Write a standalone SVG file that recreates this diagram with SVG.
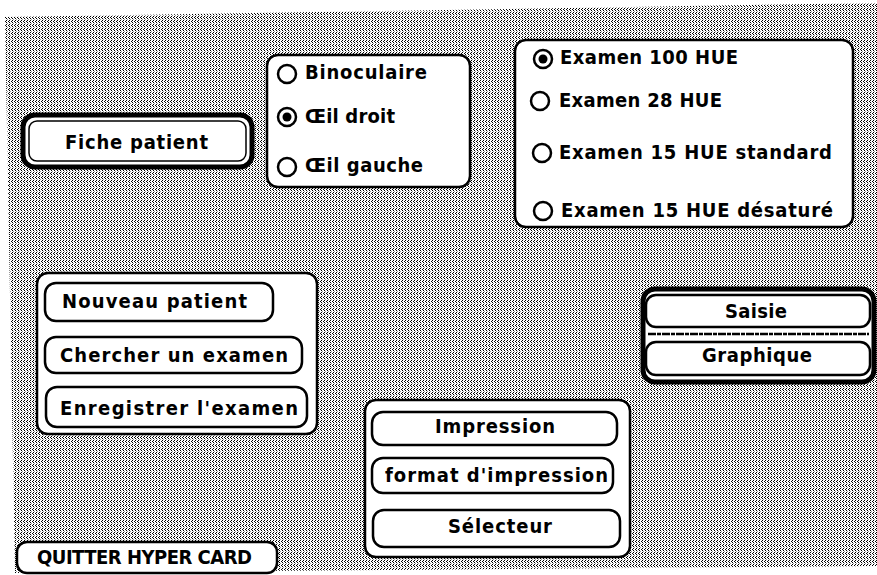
<svg xmlns="http://www.w3.org/2000/svg" width="877" height="575" viewBox="0 0 877 575">
<defs>
<pattern id="dither" width="3" height="4" patternUnits="userSpaceOnUse">
<rect width="3" height="4" fill="#ffffff"/>
<rect x="0" y="0" width="1" height="1" fill="#000"/>
<rect x="2" y="1" width="1" height="1" fill="#000"/>
<rect x="0" y="2" width="1" height="1" fill="#000"/>
<rect x="1" y="3" width="1" height="1" fill="#000" fill-opacity="0.4"/>
</pattern>
</defs>
<style>
.bg{fill:url(#dither);}
.box{fill:#fff;stroke:#000;stroke-width:2.5;}
.btn{fill:#fff;stroke:#000;stroke-width:2.5;}
.thick{fill:#fff;stroke:#000;stroke-width:5;}
.thin{fill:none;stroke:#000;stroke-width:1.5;}
.radio{fill:#fff;stroke:#000;stroke-width:2.5;}
.dot{fill:#000;}
text{font-family:"DejaVu Sans Condensed","DejaVu Sans","Liberation Sans",sans-serif;font-weight:bold;font-size:20px;fill:#000;}
</style>
<rect width="877" height="575" fill="#fff"/>
<polygon class="bg" points="5,17 877,3 877,566 15,573"/>

<g id="fiche-patient">
<rect class="thick" x="23" y="115" width="229" height="52" rx="12"/>
<rect class="thin" x="29" y="121" width="217" height="40" rx="8"/>
<text x="65" y="149" font-size="21" textLength="143">Fiche patient</text>
</g>

<g id="oeil">
<rect class="box" x="267" y="55" width="203" height="132" rx="11"/>
<circle class="radio" cx="287" cy="74" r="9"/>
<text x="305" y="79" textLength="122">Binoculaire</text>
<circle class="radio" cx="287" cy="117" r="9"/>
<circle class="dot" cx="287" cy="117" r="4.5"/>
<text x="305" y="123" textLength="90">Œil droit</text>
<circle class="radio" cx="287" cy="167" r="9"/>
<text x="305" y="172" textLength="118">Œil gauche</text>
</g>

<g id="examen">
<rect class="box" x="515" y="40" width="338" height="187" rx="11"/>
<circle class="radio" cx="543" cy="59" r="9"/>
<circle class="dot" cx="543" cy="59" r="4.5"/>
<text x="560" y="64" textLength="178">Examen 100 HUE</text>
<circle class="radio" cx="540" cy="101" r="9"/>
<text x="559" y="107" textLength="163">Examen 28 HUE</text>
<circle class="radio" cx="542" cy="153" r="9"/>
<text x="559" y="159" textLength="273">Examen 15 HUE standard</text>
<circle class="radio" cx="543" cy="211" r="9"/>
<text x="561" y="217" textLength="272">Examen 15 HUE désaturé</text>
</g>

<g id="patient-actions">
<rect class="box" x="37" y="273" width="280" height="161" rx="11"/>
<g id="nouveau-patient">
<rect class="btn" x="45" y="283" width="228" height="38" rx="11"/>
<text x="62" y="308" textLength="185">Nouveau patient</text>
</g>
<g id="chercher-examen">
<rect class="btn" x="45" y="337" width="257" height="36" rx="11"/>
<text x="60" y="362" textLength="228">Chercher un examen</text>
</g>
<g id="enregistrer-examen">
<rect class="btn" x="46" y="387" width="261" height="40" rx="11"/>
<text x="60" y="415" textLength="238">Enregistrer l'examen</text>
</g>
</g>

<g id="saisie-graphique">
<rect class="thick" x="643" y="289" width="231" height="93" rx="12"/>
<line x1="648" y1="334" x2="869" y2="334" stroke="#000" stroke-width="2.5" stroke-dasharray="8 1 4 1"/>
<g id="saisie">
<rect class="btn" x="646" y="295" width="224" height="32" rx="10"/>
<text x="725" y="318" textLength="62">Saisie</text>
</g>
<g id="graphique">
<rect class="btn" x="646" y="342" width="224" height="33" rx="10"/>
<text x="702" y="362" textLength="110">Graphique</text>
</g>
</g>

<g id="impression-group">
<rect class="box" x="365" y="400" width="265" height="157" rx="11"/>
<g id="impression">
<rect class="btn" x="372" y="412" width="245" height="33" rx="11"/>
<text x="435" y="433" textLength="120">Impression</text>
</g>
<g id="format-impression">
<rect class="btn" x="372" y="458" width="241" height="35" rx="11"/>
<text x="385" y="482" textLength="223">format d'impression</text>
</g>
<g id="selecteur">
<rect class="btn" x="373" y="510" width="247" height="37" rx="11"/>
<text x="448" y="533" textLength="104">Sélecteur</text>
</g>
</g>

<g id="quitter">
<rect class="btn" x="17" y="542" width="260" height="31" rx="10"/>
<text x="37" y="564" font-size="20" textLength="215">QUITTER HYPER CARD</text>
</g>
</svg>
